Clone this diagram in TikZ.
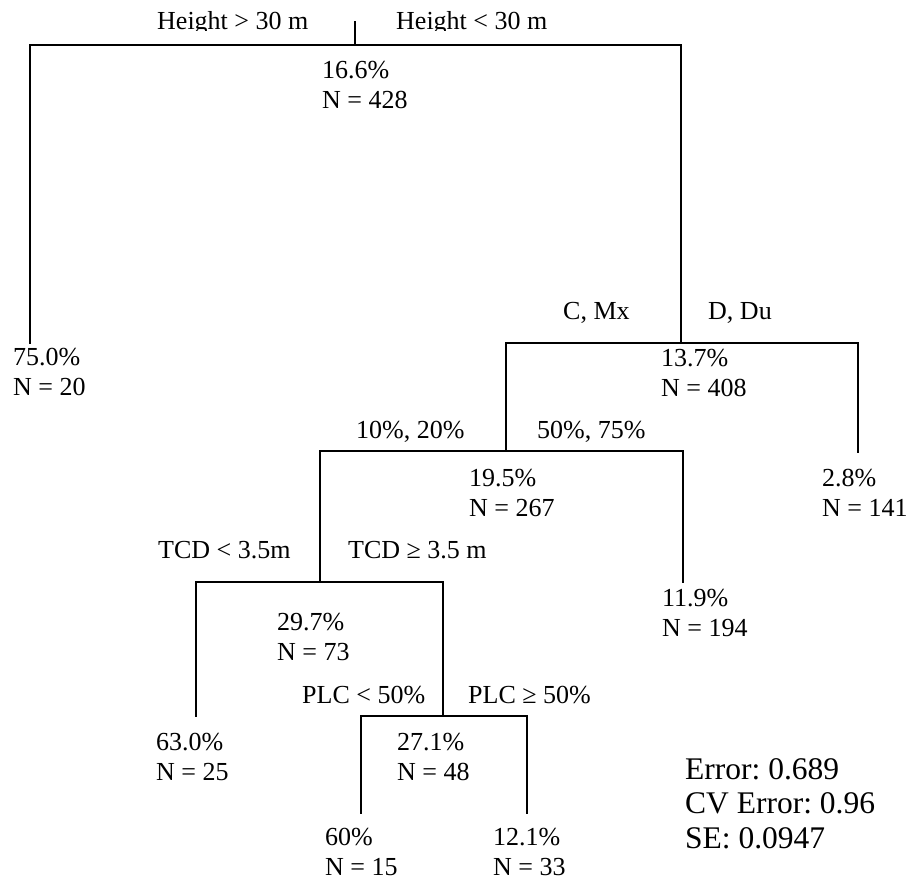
\documentclass[tikz,border=0pt]{standalone}
\usepackage{fontspec}
\setmainfont{Liberation Serif}
\frenchspacing
\begin{document}
\begin{tikzpicture}[x=1pt,y=-1pt,
  edge/.style={line width=1.8pt,line cap=rect},
  lbl/.style={inner sep=0pt,anchor=base west,font=\fontsize{26}{30}\selectfont},
  leaf/.style={inner sep=0pt,anchor=base west,align=left,font=\fontsize{26}{30}\selectfont},
  stats/.style={inner sep=0pt,anchor=base west,align=left,font=\fontsize{31.5}{34.5}\selectfont}]
\useasboundingbox (0,0) rectangle (918,881);
% branch coordinates
\coordinate (rtop) at (355,22);
\coordinate (rbar) at (355,45);
\coordinate (aLeaf) at (30,343);
\coordinate (bBar) at (681,343);
\coordinate (cBar) at (506,451);
\coordinate (dLeaf) at (858,452);
\coordinate (eBar) at (320,582);
\coordinate (fLeaf) at (683,582);
\coordinate (gLeaf) at (196,716);
\coordinate (hBar) at (443,716);
\coordinate (iLeaf) at (361,813);
\coordinate (jLeaf) at (527,813);
% edges
\draw[edge] (rtop) -- (rbar);
\draw[edge] (rbar) -| (aLeaf);
\draw[edge] (rbar) -| (bBar);
\draw[edge] (bBar) -| (cBar);
\draw[edge] (bBar) -| (dLeaf);
\draw[edge] (cBar) -| (eBar);
\draw[edge] (cBar) -| (fLeaf);
\draw[edge] (eBar) -| (gLeaf);
\draw[edge] (eBar) -| (hBar);
\draw[edge] (hBar) -| (iLeaf);
\draw[edge] (hBar) -| (jLeaf);
% split labels (top ones clipped at the picture edge as in the original)
\begin{scope}
\clip (0,0) rectangle (918,30.5);
\node[lbl] (hgt) at (157,29) {Height > 30 m};
\node[lbl] (hlt) at (396,29) {Height < 30 m};
\end{scope}
\node[lbl] (cmx) at (563,319) {C, Mx};
\node[lbl] (ddu) at (708,319) {D, Du};
\node[lbl] (p1020) at (356,438) {10\%, 20\%};
\node[lbl] (p5075) at (537,438) {50\%, 75\%};
\node[lbl] (tcdlt) at (158,558) {TCD < 3.5m};
\node[lbl] (tcdge) at (348,558) {TCD ≥ 3.5 m};
\node[lbl] (plclt) at (302,703) {PLC < 50\%};
\node[lbl] (plcge) at (468,703) {PLC ≥ 50\%};
% node statistics (anchored at the baseline of the last line)
\node[leaf] (root) at (322,108) {16.6\%\\N = 428};
\node[leaf] (n75) at (13,395) {75.0\%\\N = 20};
\node[leaf] (n137) at (661,396) {13.7\%\\N = 408};
\node[leaf] (n195) at (469,516) {19.5\%\\N = 267};
\node[leaf] (n28) at (822,516) {2.8\%\\N = 141};
\node[leaf] (n119) at (662,636) {11.9\%\\N = 194};
\node[leaf] (n297) at (277,660) {29.7\%\\N = 73};
\node[leaf] (n630) at (156,780) {63.0\%\\N = 25};
\node[leaf] (n271) at (397,780) {27.1\%\\N = 48};
\node[leaf] (n60) at (325,875) {60\%\\N = 15};
\node[leaf] (n121) at (493,875) {12.1\%\\N = 33};
\node[stats] (err) at (685,848) {Error: 0.689\\CV Error: 0.96\\SE: 0.0947};
\end{tikzpicture}
\end{document}
